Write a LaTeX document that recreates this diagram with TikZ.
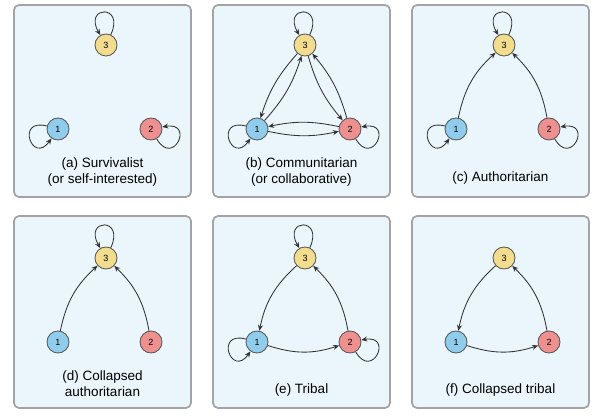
\documentclass[tikz,border=0pt]{standalone}
\usepackage{fontspec}
\setmainfont{Liberation Sans}
\usetikzlibrary{arrows.meta}

\definecolor{agentone}{HTML}{90CCEC}
\definecolor{agenttwo}{HTML}{EE9090}
\definecolor{agentthree}{HTML}{F2DC8E}
\definecolor{nodeline}{HTML}{555555}
\definecolor{edgecolor}{HTML}{333333}
\definecolor{panelfill}{HTML}{EAF6FB}
\definecolor{panelline}{HTML}{A3A3A3}

\begin{document}
\begin{tikzpicture}[
            x = 1pt, y = 1pt,
            agent/.style={circle, draw=nodeline, line width = .03cm, minimum size=22pt, inner sep=0pt, font=\fontsize{9}{9}\selectfont},
            panel/.style={draw=panelline, fill=panelfill, line width = .06cm, rounded corners=5pt},
            caption/.style={align=center, font=\fontsize{13.5}{16}\selectfont},
            line/.style={draw=edgecolor, line width = .03cm, -{Stealth[length=6pt, width=5pt]}},
            loopup/.style={line, out=65, in=120, looseness=1, min distance=34pt},
            loopleft/.style={line, out=165, in=235, looseness=1, min distance=33pt},
            loopright/.style={line, out=-60, in=10, looseness=1, min distance=33pt},
            ]
        \useasboundingbox (0, 0) rectangle (594, 415);

        % (a) survivalist
        \begin{scope}[shift={(14, 218)}]
            \draw[panel] (0, 0) rectangle (177, 192);
            \node[agent, fill=agentone] (a1) at (44, 68) {1};
            \node[agent, fill=agenttwo] (a2) at (137, 68) {2};
            \node[agent, fill=agentthree] (a3) at (92, 152) {3};
            \node[caption] (alabel) at (88.5, 25) {(a) Survivalist\\(or self-interested)};
            \draw[loopleft] (a1) to (a1);
            \draw[loopright] (a2) to (a2);
            \draw[loopup] (a3) to (a3);
        \end{scope}

        % (b) communitarian
        \begin{scope}[shift={(213, 218)}]
            \draw[panel] (0, 0) rectangle (177, 192);
            \node[agent, fill=agentone] (b1) at (44, 68) {1};
            \node[agent, fill=agenttwo] (b2) at (137, 68) {2};
            \node[agent, fill=agentthree] (b3) at (92, 152) {3};
            \node[caption] (blabel) at (88.5, 25) {(b) Communitarian\\(or collaborative)};
            \draw[loopleft] (b1) to (b1);
            \draw[loopright] (b2) to (b2);
            \draw[loopup] (b3) to (b3);
            \draw[line] (b1) to[bend right=12] (b2);
            \draw[line] (b2) to[bend right=12] (b1);
            \draw[line] (b1) to[bend right=12] (b3);
            \draw[line] (b3) to[bend right=12] (b1);
            \draw[line] (b2) to[bend right=12] (b3);
            \draw[line] (b3) to[bend right=12] (b2);
        \end{scope}

        % (c) authoritarian
        \begin{scope}[shift={(412, 218)}]
            \draw[panel] (0, 0) rectangle (177, 192);
            \node[agent, fill=agentone] (c1) at (44, 68) {1};
            \node[agent, fill=agenttwo] (c2) at (137, 68) {2};
            \node[agent, fill=agentthree] (c3) at (92, 152) {3};
            \node[caption] (clabel) at (88.5, 19) {(c) Authoritarian};
            \draw[loopleft] (c1) to (c1);
            \draw[loopright] (c2) to (c2);
            \draw[loopup] (c3) to (c3);
            \draw[line] (c1) to[bend left=18] (c3);
            \draw[line] (c2) to[bend right=18] (c3);
        \end{scope}

        % (d) collapsed authoritarian
        \begin{scope}[shift={(14, 7)}]
            \draw[panel] (0, 0) rectangle (177, 192);
            \node[agent, fill=agentone] (d1) at (44, 66) {1};
            \node[agent, fill=agenttwo] (d2) at (137, 66) {2};
            \node[agent, fill=agentthree] (d3) at (92, 150) {3};
            \node[caption] (dlabel) at (88.5, 24) {(d) Collapsed\\authoritarian};
            \draw[loopup] (d3) to (d3);
            \draw[line] (d1) to[bend left=18] (d3);
            \draw[line] (d2) to[bend right=18] (d3);
        \end{scope}

        % (e) tribal
        \begin{scope}[shift={(213, 7)}]
            \draw[panel] (0, 0) rectangle (177, 192);
            \node[agent, fill=agentone] (e1) at (44, 66) {1};
            \node[agent, fill=agenttwo] (e2) at (137, 66) {2};
            \node[agent, fill=agentthree] (e3) at (92, 150) {3};
            \node[caption] (elabel) at (88.5, 18) {(e) Tribal};
            \draw[loopleft] (e1) to (e1);
            \draw[loopright] (e2) to (e2);
            \draw[loopup] (e3) to (e3);
            \draw[line] (e3) to[bend right=18] (e1);
            \draw[line] (e1) to[bend right=18] (e2);
            \draw[line] (e2) to[bend right=18] (e3);
        \end{scope}

        % (f) collapsed tribal
        \begin{scope}[shift={(412, 7)}]
            \draw[panel] (0, 0) rectangle (177, 192);
            \node[agent, fill=agentone] (f1) at (44, 66) {1};
            \node[agent, fill=agenttwo] (f2) at (137, 66) {2};
            \node[agent, fill=agentthree] (f3) at (92, 150) {3};
            \node[caption] (flabel) at (88.5, 18) {(f) Collapsed tribal};
            \draw[line] (f3) to[bend right=18] (f1);
            \draw[line] (f1) to[bend right=18] (f2);
            \draw[line] (f2) to[bend right=18] (f3);
        \end{scope}
    \end{tikzpicture}
\end{document}
